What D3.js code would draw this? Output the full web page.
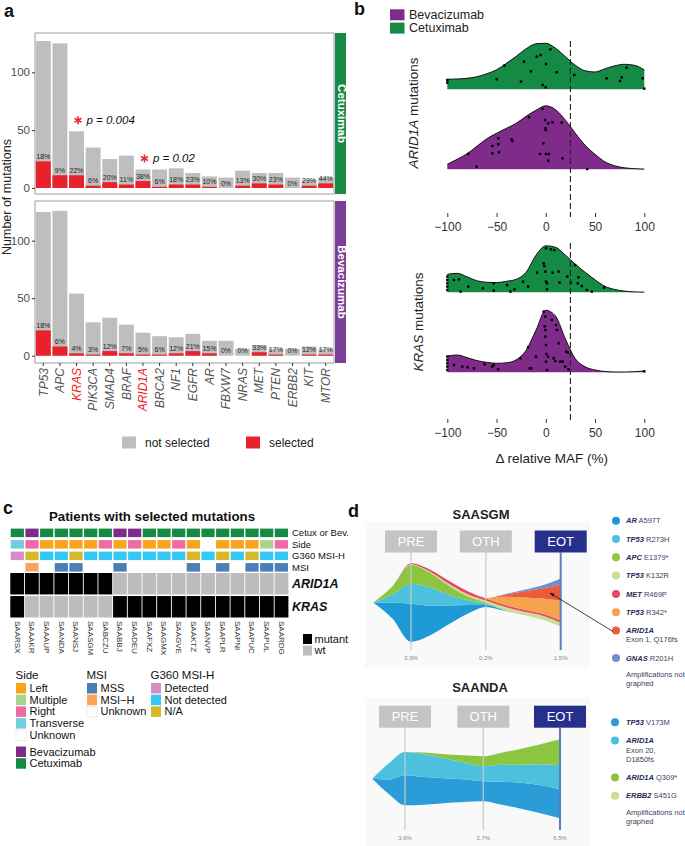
<!DOCTYPE html>
<html><head><meta charset="utf-8">
<script src="https://cdn.jsdelivr.net/npm/d3@7"></script>
<style>
body{margin:0;background:#fff;}
svg{font-family:"Liberation Sans",Arial,Helvetica,sans-serif;display:block}
</style>
</head><body>
<svg id="fig" width="685" height="846"></svg>
<script>
// ---------------- DATA ----------------
// panel a
const genes = ["TP53","APC","KRAS","PIK3CA","SMAD4","BRAF","ARID1A","BRCA2","NF1","EGFR","AR","FBXW7","NRAS","MET","PTEN","ERBB2","KIT","MTOR"];
const highlightGenes = ["KRAS","ARID1A"];
const cetuxTotal    = [127,125,49,35,25,28,16,16,17,13,10,9,15,13,13,9,7,9];
const cetuxSelected = [23,11,11,2,5,3,6,1,3,3,1,0,2,4,3,0,2,4];
const cetuxPct = ["18%","9%","22%","6%","20%","11%","38%","6%","18%","23%","10%","0%","13%","30%","23%","0%","29%","44%"];
const bevTotal    = [125,126,54,29,33,27,20,17,16,19,13,13,6,9,6,6,8,6];
const bevSelected = [22,8,2,1,4,2,1,1,2,4,2,0,0,3,1,0,1,1];
const bevPct = ["18%","6%","4%","3%","12%","7%","5%","6%","12%","21%","15%","0%","0%","33%","17%","0%","12%","17%"];
const countTicks = [0,50,100];
const pAnnotations = [{gene:"KRAS", text:"p = 0.004"},{gene:"ARID1A", text:"p = 0.02"}];
const selLegend = ["not selected","selected"];

// panel b
const mafGrid = [-100,-90,-80,-70,-60,-50,-40,-30,-20,-10,0,10,20,30,40,50,60,70,80,90,100];
const mafTicks = [-100,-50,0,50,100];
const mafThreshold = 25;
const densArid1aCetux = [10,10.3,11,12.5,15.5,19.5,26,33,40.5,45.5,46,41,32.5,24,18.5,17.3,20.5,23.5,25,24,19.3];
const densArid1aBev   = [5,10,15.5,23,30.5,36,41,46,53,59,63.5,59.5,49,36,24,15,7.5,3.5,1.5,0.6,0.2];
const densKrasCetux   = [18,19,15.5,11.5,10,9.7,11,13,20,37,46.5,45,37,28,20,12.5,6,2.8,1.2,0.4,0.1];
const densKrasBev     = [16.3,17.3,14.7,11.7,10,9,9.5,12.5,22,42,62,56,33,13.5,5.5,2.3,0.8,0.3,0.3,0.6,1.3];
const ptsArid1aCetux = [[-100,9.3],[-100,6.7],[-49.9,10],[-42.1,23.7],[-25.2,7.7],[-22.2,27.7],[-15.1,18],[-9.3,32.7],[-5.2,34.3],[0.2,25.3],[-3.2,4.3],[-0.2,2],[4.6,40],[11,17],[28.9,14.3],[61.8,11],[75.3,8.3],[77,12],[82,21.7],[98.3,11],[100,0.7]];
const ptsArid1aBev = [[-78.7,15.3],[-70.2,2.7],[-54.3,23.3],[-54.3,16],[-48.2,31],[-48.2,25],[-47.5,17],[-34.7,30],[-34,28.3],[-17.1,52],[-3.2,60.3],[-2.5,26],[-5.9,15.3],[-0.8,49.3],[-0.2,41],[-0.2,39.3],[2.5,46],[6.9,47],[0.2,15.3],[3.2,15.3],[2.5,8.7],[16.1,46.7],[17.1,11],[42.1,0.3]];
const ptsKrasCetux = [[-100,15.7],[-100,12.3],[-100,9],[-100,5.7],[-100,2.3],[-93.3,12.3],[-88.2,13],[-86.5,0.7],[-78.8,5.7],[-63.9,4],[-52.8,9],[-52.8,1.7],[-39.3,7.3],[-35.9,0.7],[-31.9,3],[-23.1,10.7],[-18,5.7],[-8.9,19.7],[-2.2,29],[-1.5,26.3],[-0.5,20.7],[0.2,10.7],[1.2,9],[1.2,3],[0.2,44],[5.2,43],[8.6,42.3],[6.9,19.7],[13,20.7],[14,9.7],[21.8,15.7],[25.5,9.7],[29.8,27.3],[32.5,9],[33.2,15],[36.6,6.3],[41.7,2.3],[46.7,0.7],[59.2,4.7]];
const ptsKrasBev = [[-100,15.7],[-100,12.3],[-100,9],[-100,5.7],[-100,2.3],[-93.3,7.3],[-84.8,5.7],[-79.4,5],[-73,4],[-62.2,8],[-54.5,5.7],[-52.8,7.3],[-48.4,3],[-25.8,14],[-18,25],[-16.4,4],[-14.7,4],[-10,15.7],[-2.2,60.7],[-0.5,55.7],[-1.2,46],[-0.5,42.3],[-0.5,35.7],[0.2,27.3],[0.5,18.3],[0.2,10.7],[1.2,2.3],[6.2,52.3],[10.3,47.3],[11.3,42.3],[13,29],[2.2,15.7],[7.9,14],[9.6,11.3],[14.7,10.7],[17,10.7],[20.7,20.7],[22.4,19.7],[19.7,5.7],[23.1,3],[100,1]];
const treatLegend = ["Bevacizumab","Cetuximab"];

// panel c
const patients = ["SAARSX","SAAAKR","SAAAUP","SAANDA","SAANSJ","SAASGM","SABCZU","SAABBJ","SAADEU","SAAFXZ","SAAGMX","SAAGVE","SAAKTZ","SAANVP","SAAPLR","SAAPNI","SAAPUC","SAAPUL","SAARDG"];
const treatment = ["Cetuximab","Bevacizumab","Cetuximab","Cetuximab","Cetuximab","Cetuximab","Cetuximab","Bevacizumab","Bevacizumab","Cetuximab","Cetuximab","Cetuximab","Cetuximab","Cetuximab","Cetuximab","Cetuximab","Cetuximab","Cetuximab","Cetuximab"];
const side = ["Transverse","Right","Left","Left","Left","Left","Right","Left","Right","Left","Left","Right","Left","Unknown","Left","Left","Left","Multiple","Right"];
const g360 = ["Detected","N/A","Not detected","Not detected","N/A","Not detected","Not detected","Not detected","Not detected","Not detected","Not detected","Not detected","N/A","Not detected","N/A","Not detected","N/A","Not detected","Not detected"];
const msi = ["Unknown","MSI\u2212H","Unknown","MSS","MSS","Unknown","Unknown","MSS","Unknown","Unknown","Unknown","Unknown","MSS","Unknown","MSS","Unknown","MSS","MSS","MSS"];
const arid1aStatus = ["mutant","mutant","mutant","mutant","mutant","mutant","mutant","wt","wt","wt","wt","wt","wt","wt","wt","wt","wt","wt","wt"];
const krasStatus = ["mutant","wt","wt","wt","wt","wt","wt","mutant","mutant","mutant","mutant","mutant","mutant","mutant","mutant","mutant","mutant","mutant","mutant"];
const annotRows = ["Cetux or Bev.","Side","G360 MSI-H","MSI"];
const geneRows = ["ARID1A","KRAS"];
const sideLevels = ["Left","Multiple","Right","Transverse","Unknown"];
const msiLevels = ["MSS","MSI\u2212H","Unknown"];
const g360Levels = ["Detected","Not detected","N/A"];
const mutLevels = ["mutant","wt"];

// panel d
const timepoints = ["PRE","OTH","EOT"];
const sgmPct = ["2.9%","0.2%","1.5%"];
const sgmTimes = [0.5,0.75,1,1.25,1.5,1.75,2,2.25,2.5,2.75,3];
const sgmClones = [
  {gene:"AR", variant:"A597T", extra:[], values:[0.3,16,38,30,19,9,2,0.5,0,0,0]},
  {gene:"TP53", variant:"R273H", extra:[], values:[0.2,8,20,18,11,5,1.5,0.3,0,0,0]},
  {gene:"APC", variant:"E1379*", extra:[], values:[0.1,8,19,15,9,4,1,0.3,0,0,0]},
  {gene:"TP53", variant:"K132R", extra:[], values:[0,0,0.5,1,2,2,2,3,3.5,4,4]},
  {gene:"MET", variant:"R469P", extra:[], values:[0,0,0.8,2,3,3,2,2,2,1.8,2]},
  {gene:"TP53", variant:"R342*", extra:[], values:[0,0,0,0,0,0,0.5,8,12,15,20]},
  {gene:"ARID1A", variant:"", extra:["Exon 1, Q176fs"], values:[0,0,0,0,0,0,0,2,6,10,16]},
  {gene:"GNAS", variant:"R201H", extra:[], values:[0,0,0,0,0,0,0,0.5,1.5,3,6]}
];
const sgmColors = ["#1d9ad6","#4cc0dc","#8cc540","#c9df8c","#e8456b","#f7a24c","#ee5b3b","#6e8fd0"];
const ndaPct = ["3.6%","2.7%","6.5%"];
const ndaTimes = [0.58,0.8,1,1.25,1.5,1.75,2,2.25,2.5,2.75,3];
const ndaClones = [
  {gene:"TP53", variant:"V173M", extra:[], values:[0.3,15,30,27.7,25,22.7,20,23,26,28,29]},
  {gene:"ARID1A", variant:"", extra:["Exon 20,","D1850fs"], values:[0.3,16.7,23.3,23,20,17,15,17,18,21,24]},
  {gene:"ARID1A", variant:"Q309*", extra:[], values:[0,0,0,1.5,4,7,10,12,16,20,26]},
  {gene:"ERBB2", variant:"S451G", extra:[], values:[0,0,0,0,0,0,0,0,0,0,0]}
];
const ndaColors = ["#2a9dd8","#4cc0dc","#8cc540","#c9df8c"];

// ---------------- DRAW ----------------
const svg = d3.select("#fig");
const GREEN = "#148a45", PURPLE = "#7f2b8a";

function panelLetter(t,x,y){ svg.append("text").attr("x",x).attr("y",y).attr("font-size",18).attr("font-weight","bold").attr("fill","#111").text(t); }
panelLetter("a",4,17); panelLetter("b",354,15); panelLetter("c",3,514); panelLetter("d",348,517);

// ===== Panel a =====
(function(){
  const g = svg.append("g");
  const x = d3.scaleBand().domain(genes).range([35,334]).paddingInner(0.1).paddingOuter(0.05);
  const bw = x.bandwidth();
  const panels = [
    {name:"Cetuximab", total:cetuxTotal, sel:cetuxSelected, pct:cetuxPct, top:33, bottom:194, y:d3.scaleLinear().domain([0,100]).range([188,72.3]), color:"#178b45", ann:true},
    {name:"Bevacizumab", total:bevTotal, sel:bevSelected, pct:bevPct, top:201, bottom:363, y:d3.scaleLinear().domain([0,100]).range([355.7,240.7]), color:"#7c3f98", ann:false}
  ];
  panels.forEach(p=>{
    g.append("rect").attr("x",35).attr("y",p.top).attr("width",299).attr("height",p.bottom-p.top).attr("fill","#fff").attr("stroke","#9d9d9d").attr("stroke-width",1);
    g.selectAll(null).data(genes).enter().append("rect")
      .attr("x",d=>x(d)).attr("width",bw)
      .attr("y",(d,i)=>p.y(p.total[i])).attr("height",(d,i)=>p.y(0)-p.y(p.total[i])).attr("fill","#bebebe");
    g.selectAll(null).data(genes).enter().append("rect")
      .attr("x",d=>x(d)).attr("width",bw)
      .attr("y",(d,i)=>p.y(p.sel[i])).attr("height",(d,i)=>p.y(0)-p.y(p.sel[i])).attr("fill","#e9212b");
    g.selectAll(null).data(genes).enter().append("text")
      .attr("x",d=>x(d)+bw/2).attr("y",(d,i)=>p.y(p.sel[i])-2.5)
      .attr("text-anchor","middle").attr("font-size",7).attr("fill","#222")
      .text((d,i)=>p.pct[i]);
    const ax = g.append("g").attr("transform","translate(35,0)").call(d3.axisLeft(p.y).tickValues(countTicks).tickSize(3).tickPadding(2));
    ax.select(".domain").remove();
    ax.selectAll("line").attr("stroke","#333");
    ax.selectAll("text").attr("font-size",11.5).attr("fill","#4d4d4d").attr("font-family","Liberation Sans, Arial, sans-serif");
    g.append("rect").attr("x",335).attr("y",p.top).attr("width",11).attr("height",p.bottom-p.top).attr("fill",p.color);
    g.append("text").attr("transform",`translate(337.5,${(p.top+p.bottom)/2}) rotate(90)`)
      .attr("text-anchor","middle").attr("font-size",11.5).attr("font-weight","bold").attr("fill","#fff").text(p.name);
    if(p.ann){
      pAnnotations.forEach(a=>{
        const i = genes.indexOf(a.gene);
        const cx = x(a.gene)+bw/2+1.5, cy = p.y(p.total[i])-11;
        g.append("path").attr("d",d3.symbol(d3.symbolAsterisk,45)()).attr("transform",`translate(${cx},${cy})`)
          .attr("stroke","#ee2a34").attr("stroke-width",1.6).attr("fill","none");
        g.append("text").attr("x",cx+8.5).attr("y",cy+4).attr("font-size",11.5).attr("font-style","italic").attr("fill","#111").text(a.text);
      });
    }
  });
  const bottomY = 363;
  const xa = g.append("g").attr("transform",`translate(0,${bottomY})`).call(d3.axisBottom(x).tickSize(3).tickPadding(3));
  xa.select(".domain").remove();
  xa.selectAll("line").attr("stroke","#333");
  xa.selectAll("text").attr("font-size",12).attr("font-style","italic").attr("font-family","Liberation Sans, Arial, sans-serif")
    .attr("fill",d=>highlightGenes.includes(d)?"#ee1c25":"#555")
    .attr("text-anchor","end").attr("transform","rotate(-90)").attr("dy","0.35em").attr("x",-5).attr("y",0);
  g.append("text").attr("transform","translate(11,197) rotate(-90)").attr("text-anchor","middle").attr("font-size",12.5).attr("fill","#222").text("Number of mutations");
  // legend
  const lc = ["#bebebe","#e9212b"], lx = [122,246];
  selLegend.forEach((s,i)=>{
    g.append("rect").attr("x",lx[i]).attr("y",436.5).attr("width",14).attr("height",12).attr("fill",lc[i]);
    g.append("text").attr("x",lx[i]+23).attr("y",447).attr("font-size",12).attr("fill","#222").text(s);
  });
})();

// ===== Panel b =====
(function(){
  const g = svg.append("g");
  const x = d3.scaleLinear().domain([-100,100]).range([447.3,644.3]);
  const h = d3.scaleLinear().domain([0,64]).range([0,64]);
  const ridges = [
    {dens:densArid1aCetux, pts:ptsArid1aCetux, base:89.3, color:GREEN},
    {dens:densArid1aBev, pts:ptsArid1aBev, base:169.3, color:PURPLE},
    {dens:densKrasCetux, pts:ptsKrasCetux, base:292.3, color:GREEN},
    {dens:densKrasBev, pts:ptsKrasBev, base:372.3, color:PURPLE}
  ];
  ridges.forEach(r=>{
    const data = mafGrid.map((m,i)=>[m,r.dens[i]]);
    const area = d3.area().x(d=>x(d[0])).y0(r.base).y1(d=>r.base-h(d[1])).curve(d3.curveMonotoneX);
    const line = d3.line().x(d=>x(d[0])).y(d=>r.base-h(d[1])).curve(d3.curveMonotoneX);
    g.append("path").attr("d",area(data)).attr("fill",r.color);
    g.append("path").attr("d",line(data)).attr("fill","none").attr("stroke","#111").attr("stroke-width",1);
    g.selectAll(null).data(r.pts).enter().append("rect")
      .attr("x",d=>x(d[0])-1.2).attr("y",d=>r.base-h(d[1])-1.2).attr("width",2.4).attr("height",2.4).attr("fill","#000");
  });
  [[41,217],[243,420]].forEach(s=>{
    g.append("line").attr("x1",x(mafThreshold)).attr("x2",x(mafThreshold)).attr("y1",s[0]).attr("y2",s[1])
      .attr("stroke","#222").attr("stroke-width",1.1).attr("stroke-dasharray","6,3");
  });
  [213,419].forEach(yy=>{
    const ax = g.append("g").attr("transform",`translate(0,${yy})`).call(d3.axisBottom(x).tickValues(mafTicks).tickSize(4).tickPadding(5).tickFormat(d3.format("d")));
    ax.select(".domain").remove();
    ax.selectAll("line").attr("stroke","#333");
    ax.selectAll("text").attr("font-size",12).attr("fill","#333").attr("font-family","Liberation Sans, Arial, sans-serif");
  });
  g.append("text").attr("x",551.7).attr("y",463).attr("text-anchor","middle").attr("font-size",13.5).attr("fill","#222").text("\u0394 relative MAF (%)");
  const t1 = g.append("text").attr("transform","translate(418,113) rotate(-90)").attr("text-anchor","middle").attr("font-size",13.5).attr("fill","#222");
  t1.append("tspan").attr("font-style","italic").text("ARID1A"); t1.append("tspan").text(" mutations");
  const t2 = g.append("text").attr("transform","translate(423,322) rotate(-90)").attr("text-anchor","middle").attr("font-size",13.5).attr("fill","#222");
  t2.append("tspan").attr("font-style","italic").text("KRAS"); t2.append("tspan").text(" mutations");
  const lcol = [PURPLE, GREEN];
  treatLegend.forEach((s,i)=>{
    g.append("rect").attr("x",390).attr("y",9.3+i*13.3).attr("width",14.5).attr("height",11).attr("fill",lcol[i]);
    g.append("text").attr("x",409).attr("y",18.8+i*13.3).attr("font-size",12.5).attr("fill","#222").text(s);
  });
})();

// ===== Panel c =====
(function(){
  const g = svg.append("g");
  g.append("text").attr("x",152).attr("y",521).attr("text-anchor","middle").attr("font-size",13.3).attr("font-weight","bold").attr("fill","#111").text("Patients with selected mutations");
  const x = d3.scaleBand().domain(patients).range([10,288.7]).paddingInner(0.1).paddingOuter(0.05);
  const yA = d3.scaleBand().domain(annotRows).range([528.6,571.6]).paddingInner(0.26).paddingOuter(0);
  const yG = d3.scaleBand().domain(geneRows).range([573,617.5]).paddingInner(0.07);
  const treatC = d3.scaleOrdinal(treatLegend,[PURPLE,GREEN]);
  const sideC = d3.scaleOrdinal(sideLevels,["#f9a51c","#a7d58e","#f06aa6","#6fcfdc","#ffffff"]);
  const g360C = d3.scaleOrdinal(g360Levels,["#d68ec2","#36c7f2","#d5b82b"]);
  const msiC = d3.scaleOrdinal(msiLevels,["#4a7fb6","#f9a457","#ffffff"]);
  const mutC = d3.scaleOrdinal(mutLevels,["#000000","#bdbdbd"]);
  const rows = [[treatment,treatC],[side,sideC],[g360,g360C],[msi,msiC]];
  rows.forEach((r,k)=>{
    g.selectAll(null).data(patients).enter().append("rect")
      .attr("x",d=>x(d)).attr("width",x.bandwidth()).attr("y",yA(annotRows[k])).attr("height",yA.bandwidth())
      .attr("fill",(d,i)=>r[1](r[0][i]));
    g.append("text").attr("x",292).attr("y",yA(annotRows[k])+yA.bandwidth()/2+3.3).attr("font-size",9.5).attr("fill","#111").text(annotRows[k]);
  });
  const xg = d3.scaleBand().domain(patients).range([10,288.7]).paddingInner(0.06).paddingOuter(0.02);
  [[arid1aStatus,"ARID1A"],[krasStatus,"KRAS"]].forEach(r=>{
    g.selectAll(null).data(patients).enter().append("rect")
      .attr("x",d=>xg(d)).attr("width",xg.bandwidth()).attr("y",yG(r[1])).attr("height",yG.bandwidth())
      .attr("fill",(d,i)=>mutC(r[0][i]));
    g.append("text").attr("x",292).attr("y",yG(r[1])+yG.bandwidth()/2+4.3).attr("font-size",12.5).attr("font-weight","bold").attr("font-style","italic").attr("fill","#111").text(r[1]);
  });
  g.selectAll(null).data(patients).enter().append("text")
    .attr("transform",d=>`translate(${x(d)+x.bandwidth()/2-2.8},621) rotate(90)`)
    .attr("font-size",8).attr("fill","#333").text(d=>d);
  mutLevels.forEach((m,i)=>{
    g.append("rect").attr("x",303).attr("y",634+i*11.5).attr("width",9).attr("height",10).attr("fill",mutC(m));
    g.append("text").attr("x",314.5).attr("y",642.5+i*11.5).attr("font-size",11).attr("fill","#111").text(m);
  });
  function legend(title,levels,cs,x0,y0){
    g.append("text").attr("x",x0).attr("y",y0).attr("font-size",11.5).attr("fill","#111").text(title);
    levels.forEach((l,i)=>{
      const yy = y0+4+i*11.7;
      g.append("rect").attr("x",x0+0.5).attr("y",yy).attr("width",10).attr("height",10.5).attr("fill",cs(l))
        .attr("stroke",cs(l)==="#ffffff"?"#e6e6e6":"none").attr("stroke-width",0.8);
      g.append("text").attr("x",x0+14).attr("y",yy+9).attr("font-size",11).attr("fill","#111").text(l);
    });
  }
  legend("Side",sideLevels,sideC,15.5,679);
  legend("MSI",msiLevels,msiC,86.5,679);
  legend("G360 MSI-H",g360Levels,g360C,150.5,679);
  treatLegend.forEach((t,i)=>{
    g.append("rect").attr("x",16).attr("y",746.5+i*11.7).attr("width",10).attr("height",10.5).attr("fill",treatC(t));
    g.append("text").attr("x",29.5).attr("y",755.5+i*11.7).attr("font-size",11).attr("fill","#111").text(t);
  });
})();

// ===== Panel d =====
function fishPlot(cfg){
  const g = svg.append("g");
  g.append("rect").attr("x",365).attr("y",cfg.bgTop).attr("width",225).attr("height",cfg.bgH).attr("fill","#f9f9f9");
  g.append("text").attr("x",cfg.titleX).attr("y",cfg.titleY).attr("text-anchor","middle").attr("font-size",13).attr("font-weight","bold").attr("fill","#222").text(cfg.title);
  const x = d3.scaleLinear().domain([1,3]).range(cfg.xr);
  const y = d3.scaleLinear().domain([-40,40]).range([cfg.center+40,cfg.center-40]);
  const keys = cfg.clones.map((c,i)=>"k"+i);
  const rows = cfg.times.map((t,j)=>{const o={t:t}; cfg.clones.forEach((c,i)=>o["k"+i]=c.values[j]); return o;});
  const series = d3.stack().keys(keys).offset(d3.stackOffsetSilhouette)(rows);
  const area = d3.area().x(d=>x(d.data.t)).y0(d=>y(d[0])).y1(d=>y(d[1])).curve(d3.curveMonotoneX);
  g.selectAll(null).data(series).enter().append("path").attr("d",area).attr("fill",(d,i)=>cfg.colors[i]);
  const tpX = [x(1),x(cfg.othT),x(3)];
  timepoints.forEach((tp,i)=>{
    g.append("line").attr("x1",tpX[i]).attr("x2",tpX[i]).attr("y1",cfg.boxY+22).attr("y2",cfg.lineBottom)
      .attr("stroke",i===2?"#5a7dbd":"#c9c9c9").attr("stroke-width",i===2?2:1.4).attr("opacity",i===2?1:0.85);
    g.append("rect").attr("x",tpX[i]-26).attr("y",cfg.boxY).attr("width",52).attr("height",22).attr("fill",i===2?"#262f8b":"#c4c4c4");
    g.append("text").attr("x",tpX[i]).attr("y",cfg.boxY+15.5).attr("text-anchor","middle").attr("font-size",13).attr("fill","#fff").text(tp);
    g.append("text").attr("x",tpX[i]).attr("y",cfg.lineBottom+9.5).attr("text-anchor","middle").attr("font-size",6).attr("fill","#8a8a8a").text(cfg.pct[i]);
  });
  // legend
  let yy = cfg.legY;
  cfg.clones.forEach((c,i)=>{
    g.append("circle").attr("cx",cfg.dotX).attr("cy",yy).attr("r",4).attr("fill",cfg.colors[i]);
    const t = g.append("text").attr("x",626).attr("y",yy+2.6).attr("font-size",7.5);
    t.append("tspan").attr("font-weight","bold").attr("font-style","italic").attr("fill","#1f2a5c").text(c.gene);
    if(c.variant) t.append("tspan").attr("fill","#3b3f60").text(" "+c.variant);
    c.extra.forEach((e,k)=>{
      g.append("text").attr("x",626).attr("y",yy+2.6+(k+1)*9.3).attr("font-size",7.5).attr("fill","#3b3f60").text(e);
    });
    if(cfg.arrowFrom===i){
      cfg.arrowPt = [cfg.dotX-3, yy+1];
    }
    yy += 18.3 + c.extra.length*9.3;
  });
  g.append("text").attr("x",626).attr("y",yy+0.5).attr("font-size",7.5).attr("fill","#3b3f60").text("Amplifications not");
  g.append("text").attr("x",626).attr("y",yy+9.5).attr("font-size",7.5).attr("fill","#3b3f60").text("graphed");
  if(cfg.arrowPt){
    const end = [x(2.86), y(series[cfg.arrowFrom][9][0]+ (series[cfg.arrowFrom][9][1]-series[cfg.arrowFrom][9][0])*0.55)];
    g.append("line").attr("x1",cfg.arrowPt[0]).attr("y1",cfg.arrowPt[1]).attr("x2",end[0]).attr("y2",end[1])
      .attr("stroke","#111").attr("stroke-width",0.8).attr("marker-end","url(#arr)");
  }
}
svg.append("defs").append("marker").attr("id","arr").attr("viewBox","0 0 10 10").attr("refX",9).attr("refY",5)
  .attr("markerWidth",6).attr("markerHeight",6).attr("orient","auto")
  .append("path").attr("d","M0,1 L10,5 L0,9 z").attr("fill","#111");

fishPlot({title:"SAASGM", titleX:481, titleY:519, clones:sgmClones, colors:sgmColors, times:sgmTimes, pct:sgmPct,
  xr:[411,560.7], othT:2, center:602.5, boxY:530.5, lineBottom:650, bgTop:522, bgH:146, legY:520.7, dotX:616, arrowFrom:6});
fishPlot({title:"SAANDA", titleX:480, titleY:692, clones:ndaClones, colors:ndaColors, times:ndaTimes, pct:ndaPct,
  xr:[405,560], othT:2.01, center:778.7, boxY:705.7, lineBottom:830, bgTop:698, bgH:148, legY:722.3, dotX:615});
</script>
</body></html>
